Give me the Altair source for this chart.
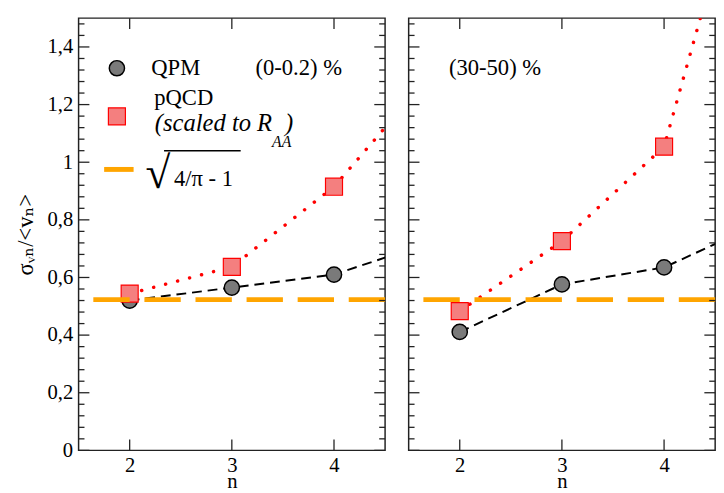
import altair as alt
import pandas as pd

# ---- data ----
n_vals = [2, 3, 4, 5]
qpm_central = [0.52, 0.565, 0.61, 0.728]      # (0-0.2) %
pqcd_central = [0.544, 0.637, 0.915, 1.325]
qpm_mid = [0.411, 0.576, 0.635, 0.797]        # (30-50) %
pqcd_mid = [0.483, 0.726, 1.054, 2.31]
ref_level = [0.523]                            # sqrt(4/pi - 1)

y_major = [0, 0.2, 0.4, 0.6, 0.8, 1.0, 1.2, 1.4]
y_minor = [0.04, 0.08, 0.12, 0.16, 0.24, 0.28, 0.32, 0.36, 0.44, 0.48, 0.52, 0.56,
           0.64, 0.68, 0.72, 0.76, 0.84, 0.88, 0.92, 0.96, 1.04, 1.08, 1.12, 1.16,
           1.24, 1.28, 1.32, 1.36, 1.44, 1.48]
x_major = [2, 3, 4]

W, H = 312, 440
SERIF = "Times New Roman, Liberation Serif, DejaVu Serif, serif"
xscale = alt.Scale(domain=[1.5, 4.5], nice=False, zero=False)
yscale = alt.Scale(domain=[0, 1.5], nice=False, zero=True)


def panel(qpm, pqcd, show_y, label, legend):
    df = pd.DataFrame({"n": n_vals, "qpm": qpm, "pqcd": pqcd})
    xaxis = alt.Axis(values=x_major, title="n", ticks=False, domain=False, grid=False,
                     labelFont=SERIF, labelFontSize=21, labelColor="black", labelPadding=5,
                     titleFont=SERIF, titleFontSize=21, titleFontWeight="normal",
                     titleColor="black", titlePadding=-5)
    if show_y:
        yaxis = alt.Axis(values=y_major, title="σᵥₙ/<vₙ>", ticks=False, domain=False, grid=False,
                         labelExpr="replace(format(datum.value, '.1~f'), '.', ',')",
                         labelFont=SERIF, labelFontSize=21, labelColor="black", labelPadding=6,
                         titleFont=SERIF, titleFontSize=23, titleFontWeight="normal",
                         titleColor="black", titlePadding=10)
    else:
        yaxis = None

    def X(f):
        return alt.X(f, scale=xscale, axis=xaxis)

    def Y(f):
        return alt.Y(f, scale=yscale, axis=yaxis)

    base = alt.Chart(df)
    qline = base.mark_line(color="black", strokeDash=[10, 6], strokeWidth=2, clip=True).encode(
        x=X("n:Q"), y=Y("qpm:Q"))
    pline = base.mark_line(color="#ff0000", strokeDash=[0.1, 12.5], strokeCap="round",
                           strokeWidth=3.5, clip=True).encode(x=X("n:Q"), y=Y("pqcd:Q"))
    qpts = base.mark_point(shape="circle", filled=True, size=240, fill="#7a7a7a",
                           stroke="black", strokeWidth=1.5, opacity=1, clip=True).encode(
        x=X("n:Q"), y=Y("qpm:Q"))
    ppts = base.mark_point(shape="square", filled=True, size=300, fill="#f47f7f",
                           stroke="#ff0000", strokeWidth=1.2, opacity=1, clip=True).encode(
        x=X("n:Q"), y=Y("pqcd:Q"))
    ref = alt.Chart(pd.DataFrame({"r": ref_level})).mark_rule(
        color="#ffa500", strokeWidth=5, strokeDash=[37, 15]).encode(y=Y("r:Q"))

    ymaj = pd.DataFrame({"v": y_major})
    ymin = pd.DataFrame({"v": y_minor})
    xmaj = pd.DataFrame({"v": x_major})
    tk = dict(color="#222222", strokeWidth=1.3)
    ticks = [
        alt.Chart(ymaj).mark_rule(**tk).encode(y=Y("v:Q"), x=alt.value(0), x2=alt.value(11)),
        alt.Chart(ymaj).mark_rule(**tk).encode(y=Y("v:Q"), x=alt.value(W - 11), x2=alt.value(W)),
        alt.Chart(ymin).mark_rule(**tk).encode(y=Y("v:Q"), x=alt.value(0), x2=alt.value(6)),
        alt.Chart(ymin).mark_rule(**tk).encode(y=Y("v:Q"), x=alt.value(W - 6), x2=alt.value(W)),
        alt.Chart(xmaj).mark_rule(**tk).encode(x=X("v:Q"), y=alt.value(H - 11), y2=alt.value(H)),
        alt.Chart(xmaj).mark_rule(**tk).encode(x=X("v:Q"), y=alt.value(0), y2=alt.value(11)),
    ]

    one = pd.DataFrame({"a": [0]})

    def txt(s, x, y, size=23, style="normal", align="left", baseline="alphabetic"):
        return alt.Chart(one).mark_text(text=s, font=SERIF, fontSize=size, fontStyle=style,
                                        align=align, baseline=baseline, color="black").encode(
            x=alt.value(x), y=alt.value(y))

    layers = [qline, pline, qpts, ppts, ref] + ticks
    if legend:
        layers += [
            alt.Chart(one).mark_point(shape="circle", filled=True, size=240, fill="#7a7a7a",
                                      stroke="black", strokeWidth=1.5, opacity=1).encode(
                x=alt.value(39), y=alt.value(51)),
            txt("QPM", 74, 58),
            alt.Chart(one).mark_point(shape="square", filled=True, size=300, fill="#f47f7f",
                                      stroke="#ff0000", strokeWidth=1.2, opacity=1).encode(
                x=alt.value(39), y=alt.value(100)),
            txt("pQCD", 77, 88),
            txt("(scaled to R", 197, 115, size=25, style="italic", align="right"),
            txt("AA", 197, 131, size=16, style="italic"),
            txt(")", 210, 115, size=25, style="italic"),
            alt.Chart(one).mark_rule(color="#ffa500", strokeWidth=5).encode(
                x=alt.value(26), x2=alt.value(56), y=alt.value(154)),
            txt("√", 68, 159, size=46, baseline="middle"),
            alt.Chart(one).mark_rule(color="black", strokeWidth=1.5).encode(
                x=alt.value(87), x2=alt.value(165), y=alt.value(135)),
            txt("4/π - 1", 97, 171),
        ]
    layers.append(txt(label, 180 if legend else 41, 58))
    return alt.layer(*layers).properties(width=W, height=H)


left = panel(qpm_central, pqcd_central, True, "(0-0.2) %", True)
right = panel(qpm_mid, pqcd_mid, False, "(30-50) %", False)

chart = alt.hconcat(left, right, spacing=16).properties(
    padding={"left": 14, "top": 12, "right": 5, "bottom": 0},
    background="white",
).configure_view(stroke="#222222", strokeWidth=1.5)

chart.save("out.html", embed_options={"renderer": "svg", "actions": False})
